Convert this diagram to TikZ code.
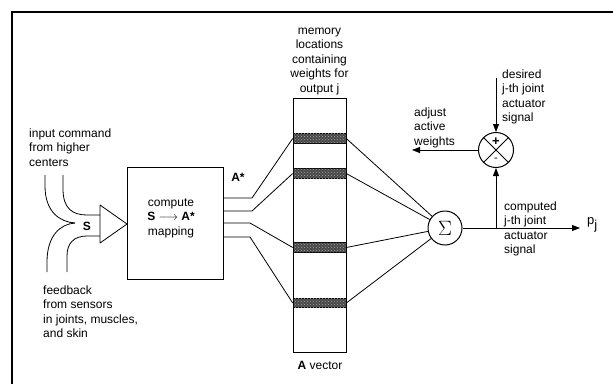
\documentclass[tikz,border=0pt]{standalone}
\usepackage{fontspec}
\setmainfont{Liberation Sans}
\usetikzlibrary{arrows.meta,patterns}

\begin{document}
\begin{tikzpicture}[x=1pt,y=-1pt,
  wire/.style={line width=0.8pt},
  txt/.style={inner sep=0pt, align=left, anchor=north west, font=\fontsize{12}{14.5}\selectfont},
  ctxt/.style={txt, align=center, anchor=north},
  bandbox/.style={draw, line width=0.6pt, fill=black!72, inner sep=0pt,
    minimum width=53pt, minimum height=9.5pt,
    postaction={pattern=crosshatch dots, pattern color=black!35}},
  tip/.style={-{Triangle[length=8pt,width=6pt]}},
  sumnode/.style={circle, draw, line width=1pt, inner sep=0pt, minimum size=34pt}
]
\useasboundingbox (0,0) rectangle (613,384);

% frame: top and left edges only
\draw[line width=2.6pt] (12,384) -- (12,12) -- (613,12);

% ---- input side ----
\node[txt] (cmdtxt) at (29,128.5) {input command\\from higher\\centers};
\node[txt] (fbtxt) at (43,285.5) {feedback\\from sensors\\in joints, muscles,\\and skin};

\coordinate (cusp) at (75,223);
\draw[wire] (45,175) -- (45,186) .. controls (45,212) and (60,222) .. (cusp);
\draw[wire] (47,272) -- (47,262) .. controls (47,236) and (60,224) .. (cusp);
\draw[wire] (63,175) -- (63,189) .. controls (63,208) and (72,215) .. (87,215) -- (100,215);
\draw[wire] (67,272) -- (67,256) .. controls (67,243) and (74,236) .. (87,236) -- (100,236);
\node[font=\fontsize{12}{14}\selectfont\bfseries, inner sep=0pt] (s) at (87,226) {S};

% amplifier triangle
\draw[wire, line join=round] (100,205) -- (127,224) -- (100,243) -- cycle;

% ---- mapping box ----
\node[draw, wire, minimum width=96pt, minimum height=112pt, inner sep=0pt] (comp) at (175,223) {};
\node[ctxt] (comptxt) at (171,198.5)
  {compute\\\textbf{S} $\longrightarrow$ \textbf{A*}\\mapping};
\node[font=\fontsize{12}{14}\selectfont\bfseries, inner sep=0pt] (astar) at (238,177) {A*};

% ---- memory column ----
\node[ctxt] (memtxt) at (319.5,27.5)
  {memory\\locations\\containing\\weights for\\output j};
\node[draw, wire, minimum width=53pt, minimum height=254pt, inner sep=0pt] (mem) at (319.5,225) {};
\node[bandbox] (b1) at (319.5,138.5) {};
\node[bandbox] (b2) at (319.5,173.5) {};
\node[bandbox] (b3) at (319.5,247.5) {};
\node[bandbox] (b4) at (319.5,303) {};
\node[font=\fontsize{12}{14}\selectfont, inner sep=0pt] (avec) at (320,365) {\textbf{A} vector};

% active lines from the mapping box to the selected weights
\coordinate (o1) at (223,198);
\coordinate (o2) at (223,211);
\coordinate (o3) at (223,223);
\coordinate (o4) at (223,237);
\draw[wire] (o1) -- (252,198) -- (b1.west);
\draw[wire] (o2) -- (252,211) -- (b2.west);
\draw[wire] (o3) -- (250,223) -- (b3.west);
\draw[wire] (o4) -- (250,237) -- (b4.west);

% ---- summation ----
\node[sumnode, font=\fontsize{20}{20}\selectfont] (sig) at (445,228) {$\Sigma$};
\foreach \b in {b1,b2,b3,b4} \draw[wire] (\b.east) -- (sig);

\node[inner sep=0pt, anchor=west, font=\fontsize{13}{14}\selectfont] (pj) at (587,225) {p\raisebox{-5pt}{j}};
\coordinate (pend) at (580,228);
\draw[wire, tip] (sig.east) -- (pend);

% ---- comparator ----
\node[sumnode, minimum size=35pt] (cmp) at (496,150) {};
\draw[wire] (cmp.north west) -- (cmp.south east);
\draw[wire] (cmp.north east) -- (cmp.south west);
\node[font=\fontsize{13}{13}\selectfont\bfseries, inner sep=0pt] (plus) at (496,141.5) {+};
\node[font=\fontsize{11}{11}\selectfont, inner sep=0pt] (minus) at (496,160) {-};

\coordinate (split) at (496,228);
\coordinate (dtop) at (496,78);
\coordinate (adj) at (412,150);
\draw[wire, tip] (split) -- (cmp.south);
\draw[wire, tip] (dtop) -- (cmp.north);
\draw[wire, tip] (cmp.west) -- (adj);

\node[txt] (adjtxt) at (414,107.5) {adjust\\active\\weights};
\node[txt] (destxt) at (502,69.5) {desired\\j-th joint\\actuator\\signal};
\node[txt] (comptd) at (504,201.5) {computed\\j-th joint\\actuator\\signal};
\end{tikzpicture}
\end{document}
